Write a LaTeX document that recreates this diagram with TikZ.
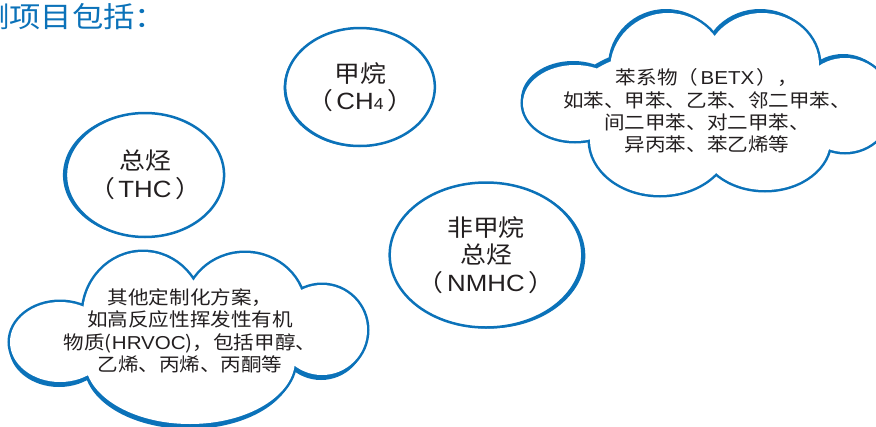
\documentclass[tikz,border=0pt]{standalone}
\usepackage{fontspec}
\setmainfont[FakeStretch=1.1]{Noto Sans CJK SC}
\newfontfamily\lat[FakeStretch=1.1]{Liberation Sans}
\usetikzlibrary{shapes.geometric,shadows}
\definecolor{cblue}{HTML}{0B72B9}
\definecolor{ink}{HTML}{231F20}
\newcommand\betxshapes{%
 (575,103) ellipse[x radius=52,y radius=38]
 (668,70) ellipse[x radius=58,y radius=57]
 (762,65) ellipse[x radius=57,y radius=52]
 (845,105) ellipse[x radius=47,y radius=47]
 (660,140) ellipse[x radius=70,y radius=55]
 (765,140) ellipse[x radius=65,y radius=50]
 (700,105) ellipse[x radius=130,y radius=60]}
\newcommand\hrvocshapes{%
 (143,315) ellipse[x radius=60,y radius=63]
 (245,310) ellipse[x radius=60,y radius=57]
 (322,330) ellipse[x radius=45,y radius=45]
 (190,360) ellipse[x radius=105,y radius=64]
 (60,342) ellipse[x radius=50,y radius=40]
 (190,332) ellipse[x radius=120,y radius=45]}
\newcommand\gapsp{\hspace{3.5pt}}
\tikzset{
 circ/.style={ellipse, draw=cblue, line width=2.5pt, fill=white, inner sep=0pt,
   align=center, text=ink, font=\fontsize{23.5}{27.5}\selectfont},
 cloudtext/.style={align=center, text=ink, inner sep=0pt, font=\fontsize{18.7}{22.4}\selectfont},
}
\begin{document}
\begin{tikzpicture}[x=1pt,y=-1pt]
\useasboundingbox (0,0) rectangle (876,426);
\fill[white] (0,0) rectangle (876,426);
% title
\node[anchor=west, inner sep=0pt, text=cblue, font=\fontsize{28.5}{30}\selectfont] (title) at (-22,17) {测项目包括：};
% BETX cloud
\fill[cblue, shift={(-2,-4)}] \betxshapes;
\draw[cblue, line width=5pt] \betxshapes;
\fill[white] \betxshapes;
\node[cloudtext] (betx) at (707,111) {苯系物（\hspace{2.5pt}{\lat BETX}\hspace{2.5pt}），\\如苯、甲苯、乙苯、邻二甲苯、\\间二甲苯、对二甲苯、\\异丙苯、苯乙烯等};
% HRVOC cloud
\fill[cblue, shift={(-1,5)}] \hrvocshapes;
\draw[cblue, line width=5pt] \hrvocshapes;
\fill[white] \hrvocshapes;
\node[cloudtext] (hrvoc) at (190,331) {其他定制化方案，\\如高反应性挥发性有机\\物质({\lat HRVOC})，包括甲醇、\\乙烯、丙烯、丙酮等};
% circles
\node[circ, minimum width=131pt, minimum height=118pt,
  general shadow={shadow xshift=-1.5pt, shadow yshift=-1pt, fill=cblue}] (ch4) at (360,87)
  {甲烷\\（\gapsp{\lat CH{\fontsize{16}{16}\selectfont 4}}\gapsp）};
\node[circ, minimum width=140pt, minimum height=124pt,
  general shadow={shadow xshift=-3pt, shadow yshift=0pt, fill=cblue}] (thc) at (145,175)
  {总烃\\（\gapsp{\lat THC}\gapsp）};
\node[circ, minimum width=161pt, minimum height=145pt,
  general shadow={shadow xshift=3pt, shadow yshift=-1pt, fill=cblue}] (nmhc) at (486,255)
  {非甲烷\\总烃\\（\gapsp{\lat NMHC}\gapsp）};
\end{tikzpicture}
\end{document}
